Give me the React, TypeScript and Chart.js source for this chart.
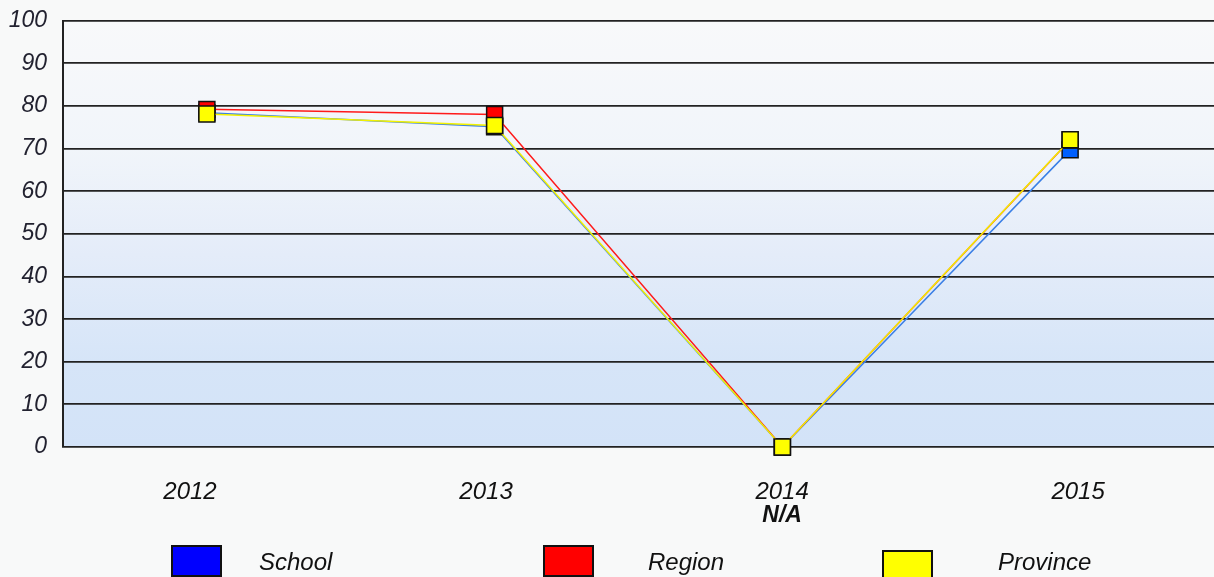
import React, { useEffect, useRef } from 'react';
import { Chart, registerables } from 'chart.js';

Chart.register(...registerables);

// ---- data ----
const categories = ['2012', '2013', '2014', '2015'];
const noteLabels = ['', '', 'N/A', ''];
const seriesNames = ['School', 'Region', 'Province'];
const schoolValues = [78.4, 75.1, 0, 69.7];
const regionValues = [79.2, 78.0, 0, 72.0];
const provinceValues = [78.1, 75.4, 0, 72.1];
const yMin = 0;
const yMax = 100;
const yStep = 10;

// ---- styles ----
const FONT = "'Liberation Sans', Arial, sans-serif";
const lineColors = ['#3a7fe6', '#ff1a1a', '#f2f200'];
const markerColors = ['#0060ff', '#ff0000', '#ffff00'];
const legendColors = ['#0000ff', '#ff0000', '#ffff00'];
const legendPlaces = [
  { boxLeft: 171, boxTop: 545, textLeft: 259 },
  { boxLeft: 543, boxTop: 545, textLeft: 648 },
  { boxLeft: 882, boxTop: 550, textLeft: 998 },
];
const labelAxisMin = -0.429;
const labelAxisMax = 3.459;

const bgPlugin = {
  id: 'plotBg',
  beforeDraw(chart: any) {
    const { ctx, chartArea: a } = chart;
    if (!a) return;
    const g = ctx.createLinearGradient(0, a.top, 0, a.bottom);
    g.addColorStop(0, '#f8f9fa');
    g.addColorStop(0.3, '#f1f5fa');
    g.addColorStop(0.55, '#e4ecf9');
    g.addColorStop(0.8, '#d6e5f8');
    g.addColorStop(1, '#d3e3f8');
    ctx.save();
    ctx.fillStyle = g;
    ctx.fillRect(a.left, a.top, a.right - a.left, a.bottom - a.top);
    ctx.restore();
  },
};

const noPad = (s: any) => {
  s.paddingTop = 0;
  s.paddingBottom = 0;
  s.paddingLeft = 0;
  s.paddingRight = 0;
};

export default function App() {
  const canvasRef = useRef<HTMLCanvasElement | null>(null);

  useEffect(() => {
    const canvas = canvasRef.current;
    if (!canvas) return;
    const seriesValues = [schoolValues, regionValues, provinceValues];
    const drawOrder = [3, 2, 1];
    const xFont = { family: FONT, size: 24, style: 'italic' as const, lineHeight: 1 };
    const yFont = { family: FONT, size: 23, style: 'italic' as const, lineHeight: 1 };
    const chart = new Chart(canvas, {
      type: 'line',
      data: {
        labels: categories,
        datasets: seriesNames.map((name, i) => ({
          label: name,
          data: seriesValues[i],
          borderColor: lineColors[i],
          borderWidth: 1.5,
          backgroundColor: markerColors[i],
          pointBackgroundColor: markerColors[i],
          pointBorderColor: '#111',
          pointBorderWidth: 1.5,
          pointStyle: 'rect',
          pointRadius: 11.3,
          pointHoverRadius: 11.3,
          tension: 0,
          fill: false,
          clip: false as any,
          order: drawOrder[i],
          xAxisID: 'x',
          yAxisID: 'y',
        })),
      },
      options: {
        animation: false,
        responsive: false,
        devicePixelRatio: 1,
        layout: { autoPadding: false, padding: { top: 20.7, left: 0, right: 0, bottom: 45 } },
        plugins: {
          legend: { display: false },
          tooltip: { enabled: false },
        },
        scales: {
          x: {
            type: 'category',
            offset: true,
            display: false,
          },
          years: {
            type: 'linear',
            position: 'bottom',
            weight: 1,
            min: labelAxisMin,
            max: labelAxisMax,
            grid: { display: false, drawTicks: false },
            border: { display: false },
            afterBuildTicks: (s: any) => {
              s.ticks = categories.map((_, i) => ({ value: i }));
            },
            afterFit: (s: any) => {
              s.height = 55;
              noPad(s);
            },
            ticks: {
              padding: 33,
              color: '#111',
              font: xFont,
              maxRotation: 0,
              autoSkip: false,
              callback: (v: any) => categories[Number(v)] ?? '',
            },
          },
          note: {
            type: 'linear',
            position: 'bottom',
            weight: 2,
            min: labelAxisMin,
            max: labelAxisMax,
            grid: { display: false, drawTicks: false },
            border: { display: false },
            afterBuildTicks: (s: any) => {
              s.ticks = noteLabels.map((_, i) => ({ value: i }));
            },
            afterFit: (s: any) => {
              s.height = 30;
              noPad(s);
            },
            ticks: {
              padding: 2.5,
              color: '#111',
              font: { family: FONT, size: 23, style: 'italic', weight: 'bold', lineHeight: 1 },
              maxRotation: 0,
              autoSkip: false,
              callback: (v: any) => noteLabels[Number(v)] ?? '',
            },
          },
          y: {
            type: 'linear',
            min: yMin,
            max: yMax,
            afterFit: (s: any) => {
              s.width = 63;
              noPad(s);
            },
            ticks: {
              stepSize: yStep,
              padding: 16,
              color: '#222230',
              font: yFont,
            },
            grid: { color: '#222', lineWidth: 1.8, drawTicks: false },
            border: { display: true, color: '#222', width: 2 },
          },
        },
      } as any,
      plugins: [bgPlugin],
    });
    return () => chart.destroy();
  }, []);

  return (
    <div
      style={{
        position: 'fixed',
        left: 0,
        top: 0,
        width: 1214,
        height: 577,
        overflow: 'hidden',
        background: '#f8f9f9',
      }}
    >
      <canvas ref={canvasRef} width={1214} height={577} style={{ position: 'absolute', left: 0, top: 0 }} />
      {seriesNames.map((name, i) => (
        <React.Fragment key={name}>
          <div
            style={{
              position: 'absolute',
              left: legendPlaces[i].boxLeft,
              top: legendPlaces[i].boxTop,
              width: 51,
              height: 32,
              boxSizing: 'border-box',
              border: '2px solid #111',
              background: legendColors[i],
            }}
          />
          <div
            style={{
              position: 'absolute',
              left: legendPlaces[i].textLeft,
              top: 549.7,
              fontFamily: FONT,
              fontStyle: 'italic',
              fontSize: 24,
              lineHeight: '24px',
              color: '#111',
              whiteSpace: 'nowrap',
            }}
          >
            {name}
          </div>
        </React.Fragment>
      ))}
    </div>
  );
}
